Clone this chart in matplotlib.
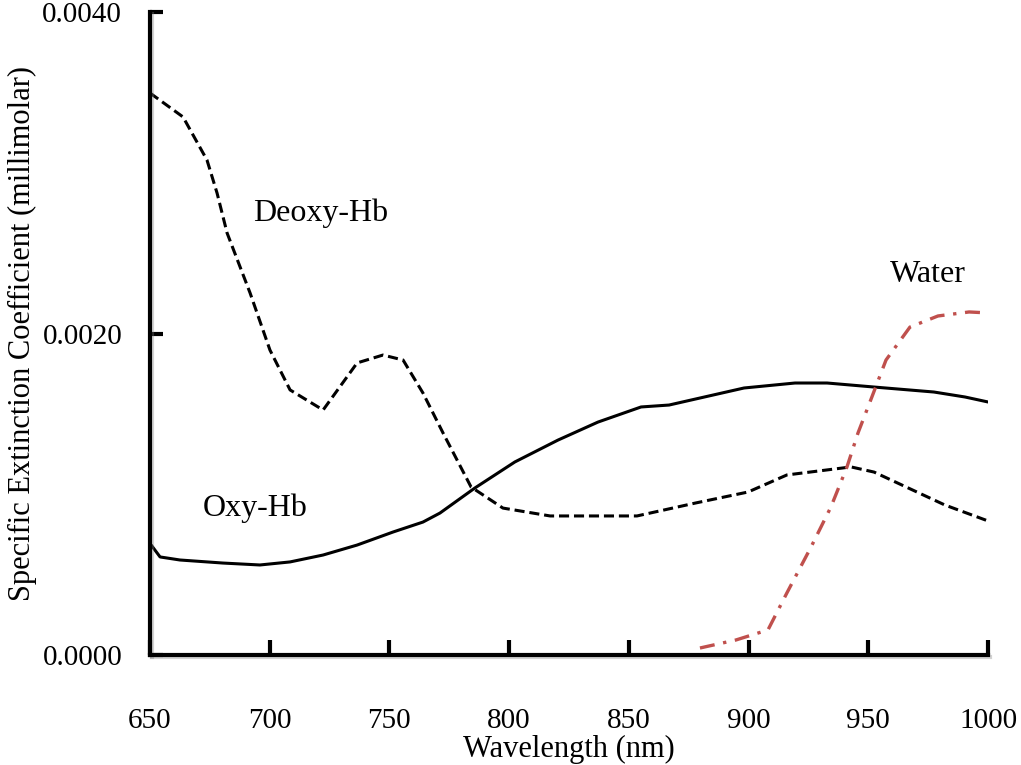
import matplotlib
matplotlib.use("Agg")
import matplotlib.pyplot as plt
import matplotlib.patheffects as pe
import matplotlib.ticker as mticker

# ── Data ─────────────────────────────────────────────────────
deoxy_nm = [650, 663.8, 673.8, 678.0, 682.2, 691.8, 700.1, 708.5, 722.3, 736.5,
            747.3, 755.7, 764.0, 772.4, 784.1, 797.4, 817.1, 853.4, 878.0,
            899.8, 916.0, 942.8, 952.4, 982.0, 1000]
deoxy_val = [0.003496, 0.003347, 0.003079, 0.002874, 0.002625, 0.002252,
             0.001897, 0.001649, 0.001524, 0.001817, 0.001866, 0.001835,
             0.001630, 0.001381, 0.001045, 0.000914, 0.000865, 0.000865,
             0.000946, 0.001014, 0.001120, 0.001170, 0.001138, 0.000933,
             0.000834]

oxy_nm = [650.5, 654.2, 662.5, 680.5, 695.9, 708.5, 722.3, 736.5, 751.5, 764.0,
          771.1, 785.7, 802.4, 820.4, 837.1, 855.1, 866.8, 898.1, 919.4,
          932.8, 952.4, 977.4, 990.4, 1000]
oxy_val = [0.000684, 0.000610, 0.000591, 0.000572, 0.000560, 0.000579,
           0.000622, 0.000684, 0.000765, 0.000827, 0.000883, 0.001039,
           0.001201, 0.001337, 0.001449, 0.001543, 0.001555, 0.001661,
           0.001692, 0.001692, 0.001667, 0.001636, 0.001605, 0.001574]

water_nm = [879.7, 894.7, 908.1, 916.0, 926.1, 934.4, 941.1, 945.7, 951.5,
            957.4, 967.4, 979.1, 992.1, 1000]
water_val = [0.0000435, 0.0000933, 0.000156, 0.000386, 0.000672, 0.000921,
             0.001170, 0.001381, 0.001605, 0.001835, 0.002040, 0.002109,
             0.002134, 0.002128]

x_ticks = [650, 700, 750, 800, 850, 900, 950, 1000]
y_ticks = [0.0, 0.002, 0.004]

# ── Figure ───────────────────────────────────────────────────
plt.rcParams["font.family"] = ["Liberation Serif", "DejaVu Serif"]

fig = plt.figure(figsize=(10.21, 7.65), dpi=100)
ax = fig.add_axes([150 / 1021, 1 - 655 / 765, 838 / 1021, 643 / 765])

ax.plot(oxy_nm, oxy_val, color="black", linewidth=2.2,
        solid_capstyle="round", solid_joinstyle="round")
ax.plot(deoxy_nm, deoxy_val, color="black", linewidth=2.2,
        dashes=(3.3, 1.6), dash_joinstyle="round")
ax.plot(water_nm, water_val, color="#C0504D", linewidth=2.4,
        dashes=(4.5, 2.6, 1.0, 2.6), dash_joinstyle="round")

# --- Curve labels ---
ax.text(693, 0.00275, "Deoxy-Hb", fontsize=23, ha="left", va="center")
ax.text(672, 0.00091, "Oxy-Hb", fontsize=23, ha="left", va="center")
ax.text(959, 0.00237, "Water", fontsize=23, ha="left", va="center")

# --- Axes styling ---
ax.set_xlim(650, 1000)
ax.set_ylim(0, 0.004)
ax.set_xticks(x_ticks)
ax.set_yticks(y_ticks)
ax.yaxis.set_major_formatter(mticker.FormatStrFormatter("%.4f"))

for side in ["top", "right"]:
    ax.spines[side].set_visible(False)
for side in ["left", "bottom"]:
    ax.spines[side].set_linewidth(3)
    ax.spines[side].set_capstyle("projecting")
    ax.spines[side].set_path_effects(
        [pe.SimpleLineShadow(offset=(1.5, -1.5), shadow_color="gray",
                             alpha=0.35), pe.Normal()])

ax.tick_params(axis="x", direction="in", length=11, width=3,
               labelsize=21, pad=38)
ax.tick_params(axis="y", direction="in", length=9, width=3,
               labelsize=21, pad=20)

ax.set_xlabel("Wavelength (nm)", fontsize=22, labelpad=1)
ax.set_ylabel("Specific Extinction Coefficient (millimolar)", fontsize=22,
              labelpad=4)

fig.savefig("out.png", dpi=100, facecolor="white")
